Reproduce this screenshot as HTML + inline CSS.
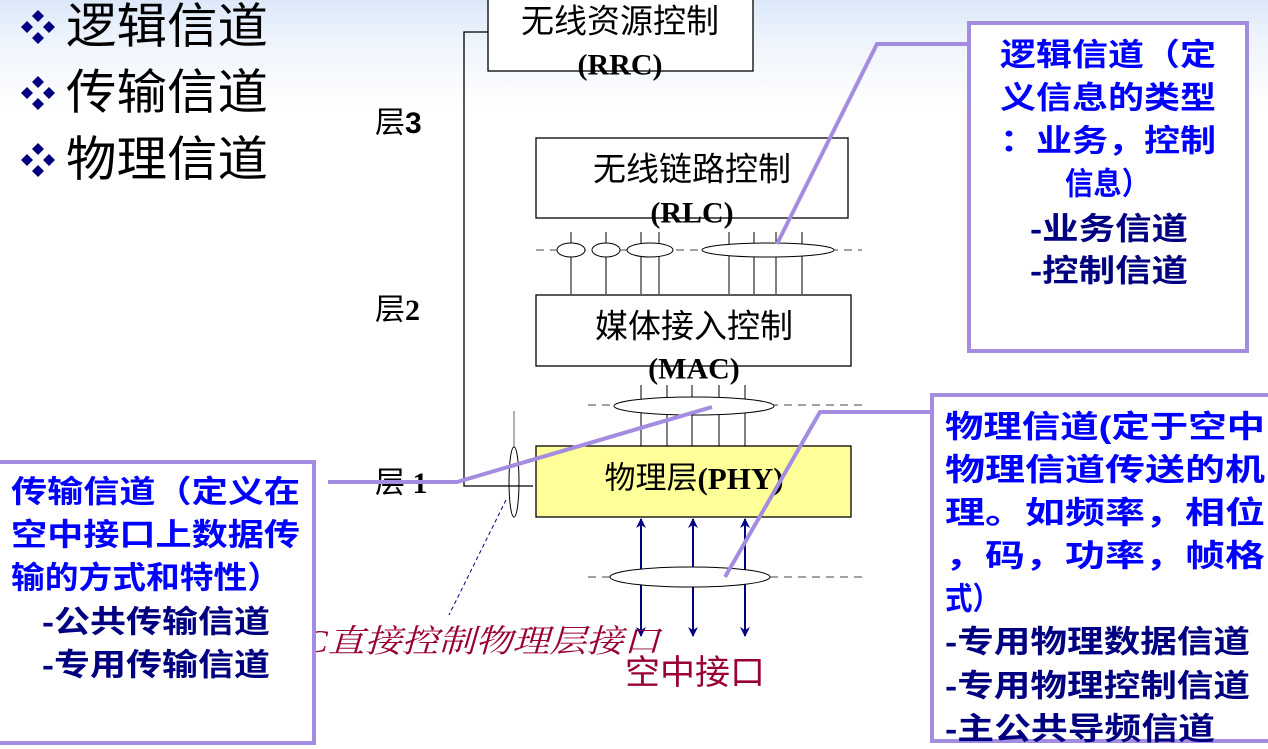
<!DOCTYPE html>
<html><head><meta charset="utf-8"><style>
html,body{margin:0;padding:0;}
body{width:1268px;height:749px;overflow:hidden;background:linear-gradient(#dce8f9 0px,#eef4fc 40px,#ffffff 110px);}
svg{position:absolute;left:0;top:0;}
.cj{font-family:"Liberation Sans","Noto Sans CJK SC",sans-serif;}
.b{font-weight:bold;}
</style></head><body>
<svg width="1268" height="749" viewBox="0 0 1268 749" xmlns="http://www.w3.org/2000/svg">
<defs>
<marker id="ah" markerWidth="10" markerHeight="10" refX="9" refY="5" orient="auto" markerUnits="userSpaceOnUse">
<path d="M0,0 L10,5 L0,10 L3,5 Z" fill="#000080"/></marker>
</defs>
<!-- bullets -->
<g fill="#000080">
<g transform="translate(38,27)"><polygon points="0,-17 6,-11 0,-5 -6,-11"/><polygon points="0,5 6,11 0,17 -6,11"/><polygon points="-11,-6 -5,0 -11,6 -17,0"/><polygon points="11,-6 17,0 11,6 5,0"/></g>
<g transform="translate(38,93)"><polygon points="0,-17 6,-11 0,-5 -6,-11"/><polygon points="0,5 6,11 0,17 -6,11"/><polygon points="-11,-6 -5,0 -11,6 -17,0"/><polygon points="11,-6 17,0 11,6 5,0"/></g>
<g transform="translate(38,160)"><polygon points="0,-17 6,-11 0,-5 -6,-11"/><polygon points="0,5 6,11 0,17 -6,11"/><polygon points="-11,-6 -5,0 -11,6 -17,0"/><polygon points="11,-6 17,0 11,6 5,0"/></g>
</g>
<g class="cj" font-size="48" fill="#000" dominant-baseline="central">
<text x="66" y="27" textLength="202" lengthAdjust="spacingAndGlyphs">逻辑信道</text>
<text x="66" y="93" textLength="202" lengthAdjust="spacingAndGlyphs">传输信道</text>
<text x="66" y="160" textLength="202" lengthAdjust="spacingAndGlyphs">物理信道</text>
</g>
<!-- layer labels -->
<g font-size="30" dominant-baseline="central">
<text class="cj" x="375" y="123">层<tspan font-family="Liberation Sans" font-weight="bold">3</tspan></text>
<text class="cj" x="375" y="310">层<tspan font-family="Liberation Serif" font-weight="bold">2</tspan></text>
<text class="cj" x="375" y="483">层<tspan font-family="Liberation Serif" font-weight="bold"> 1</tspan></text>
</g>
<!-- control line -->
<polyline points="488,32 464,32 464,486 533,486" fill="none" stroke="#000" stroke-width="1.3"/>
<!-- boxes -->
<rect x="488" y="-2" width="265" height="73" fill="#fff" stroke="#000" stroke-width="1.3"/>
<rect x="536" y="138" width="312" height="80" fill="#fff" stroke="#000" stroke-width="1.3"/>
<rect x="536" y="295" width="315" height="71" fill="#fff" stroke="#000" stroke-width="1.3"/>
<rect x="536" y="446" width="315" height="71" fill="#ffff99" stroke="#000" stroke-width="1.3"/>
<!-- RLC/MAC lines -->
<g stroke="#000" stroke-width="1">
<line x1="536" y1="250" x2="862" y2="250" stroke-dasharray="8,6" stroke="#444"/>
<line x1="571" y1="232" x2="571" y2="294"/><line x1="606" y1="232" x2="606" y2="294"/>
<line x1="641" y1="232" x2="641" y2="294"/><line x1="659" y1="232" x2="659" y2="294"/>
<line x1="729" y1="232" x2="729" y2="294"/><line x1="754" y1="232" x2="754" y2="294"/>
<line x1="776" y1="232" x2="776" y2="294"/><line x1="802" y1="232" x2="802" y2="294"/>
<ellipse cx="571" cy="250" rx="14" ry="7" fill="#fff"/>
<ellipse cx="606" cy="250" rx="14" ry="7" fill="#fff"/>
<ellipse cx="650" cy="250" rx="23" ry="7" fill="#fff"/>
<ellipse cx="768" cy="250" rx="66" ry="7" fill="#fff"/>
<line x1="588" y1="405" x2="862" y2="405" stroke-dasharray="8,6" stroke="#444"/>
<line x1="641" y1="385" x2="641" y2="446"/><line x1="667" y1="385" x2="667" y2="446"/>
<line x1="692" y1="385" x2="692" y2="446"/><line x1="719" y1="385" x2="719" y2="446"/>
<line x1="745" y1="385" x2="745" y2="446"/>
<ellipse cx="694" cy="406" rx="80" ry="9" fill="#fff"/>
<line x1="514" y1="411" x2="514" y2="447" stroke="#666"/>
<ellipse cx="514" cy="482" rx="5" ry="35" fill="none"/>
<line x1="506" y1="500" x2="449" y2="615" stroke="#000080" stroke-dasharray="4,3"/>
<line x1="588" y1="577" x2="862" y2="577" stroke-dasharray="8,6" stroke="#444"/>
</g>
<g stroke="#000080" stroke-width="2">
<line x1="641" y1="577" x2="641" y2="519" marker-end="url(#ah)"/><line x1="641" y1="577" x2="641" y2="636" marker-end="url(#ah)"/>
<line x1="693" y1="577" x2="693" y2="519" marker-end="url(#ah)"/><line x1="693" y1="577" x2="693" y2="636" marker-end="url(#ah)"/>
<line x1="745" y1="577" x2="745" y2="519" marker-end="url(#ah)"/><line x1="745" y1="577" x2="745" y2="636" marker-end="url(#ah)"/>
</g>
<ellipse cx="690" cy="577" rx="80" ry="10" fill="#fff" stroke="#000" stroke-width="1"/>
<!-- box labels -->
<g dominant-baseline="central" text-anchor="middle" fill="#000">
<text class="cj" x="620" y="21" font-size="33">无线资源控制</text>
<text x="620" y="65" font-family="Liberation Serif" font-weight="bold" font-size="30">(RRC)</text>
<text class="cj" x="692" y="169" font-size="33">无线链路控制</text>
<text x="692" y="213" font-family="Liberation Serif" font-weight="bold" font-size="30">(RLC)</text>
<text class="cj" x="694" y="326" font-size="33">媒体接入控制</text>
<text x="694" y="369" font-family="Liberation Serif" font-weight="bold" font-size="30">(MAC)</text>
<text class="cj" x="694" y="478" font-size="31">物理层<tspan font-family="Liberation Serif" font-weight="bold">(PHY)</tspan></text>
</g>
<text x="258" y="641" dominant-baseline="central" font-family="Liberation Serif,'Noto Serif CJK SC',serif" font-style="italic" font-size="32" fill="#990033" textLength="402" lengthAdjust="spacingAndGlyphs">RRC直接控制物理层接口</text>
<text class="cj" x="625" y="673" dominant-baseline="central" font-size="34" fill="#990033" textLength="140" lengthAdjust="spacingAndGlyphs">空中接口</text>
<!-- purple callout lines -->
<g fill="none" stroke="#a48de0" stroke-width="4">
<polyline points="967,44 877,44 777,244"/>
<polyline points="328,482 457,482 712,407"/>
<polyline points="932,412 820,412 725,577"/>
</g>
<!-- callout boxes -->
<rect x="969" y="23" width="278" height="328" fill="#fff" stroke="#a48de0" stroke-width="4"/>
<rect x="-4" y="462" width="318" height="281" fill="#fff" stroke="#a48de0" stroke-width="4"/>
<rect x="932" y="395" width="340" height="346" fill="#fff" stroke="#a48de0" stroke-width="4"/>
<g class="cj b" font-size="31" dominant-baseline="central" lengthAdjust="spacingAndGlyphs">
<text x="1000" y="55" fill="#0000ff" textLength="216" lengthAdjust="spacingAndGlyphs">逻辑信道（定</text>
<text x="1000" y="98" fill="#0000ff" textLength="216" lengthAdjust="spacingAndGlyphs">义信息的类型</text>
<text x="1000" y="141" fill="#0000ff" textLength="216" lengthAdjust="spacingAndGlyphs">：业务，控制</text>
<text x="1065" y="184" fill="#0000ff" textLength="85" lengthAdjust="spacingAndGlyphs">信息）</text>
<text x="1030" y="229" fill="#000080" textLength="158" lengthAdjust="spacingAndGlyphs">-业务信道</text>
<text x="1030" y="271" fill="#000080" textLength="158" lengthAdjust="spacingAndGlyphs">-控制信道</text>

<text x="11" y="492" fill="#0000ff" textLength="289" lengthAdjust="spacingAndGlyphs">传输信道（定义在</text>
<text x="11" y="535" fill="#0000ff" textLength="289" lengthAdjust="spacingAndGlyphs">空中接口上数据传</text>
<text x="11" y="578" fill="#0000ff" textLength="270" lengthAdjust="spacingAndGlyphs">输的方式和特性）</text>
<text x="42" y="622" fill="#000080" textLength="228" lengthAdjust="spacingAndGlyphs">-公共传输信道</text>
<text x="42" y="665" fill="#000080" textLength="228" lengthAdjust="spacingAndGlyphs">-专用传输信道</text>

<text x="945" y="427" fill="#0000ff" textLength="320" lengthAdjust="spacingAndGlyphs">物理信道(定于空中</text>
<text x="945" y="470" fill="#0000ff" textLength="320" lengthAdjust="spacingAndGlyphs">物理信道传送的机</text>
<text x="945" y="513" fill="#0000ff" textLength="320" lengthAdjust="spacingAndGlyphs">理。如频率，相位</text>
<text x="945" y="556" fill="#0000ff" textLength="320" lengthAdjust="spacingAndGlyphs">，码，功率，帧格</text>
<text x="945" y="599" fill="#0000ff" textLength="55" lengthAdjust="spacingAndGlyphs">式）</text>
<text x="945" y="642" fill="#000080" textLength="305" lengthAdjust="spacingAndGlyphs">-专用物理数据信道</text>
<text x="945" y="686" fill="#000080" textLength="305" lengthAdjust="spacingAndGlyphs">-专用物理控制信道</text>
<text x="945" y="729" fill="#000080" textLength="270" lengthAdjust="spacingAndGlyphs">-主公共导频信道</text>
</g>
</svg>
</body></html>
